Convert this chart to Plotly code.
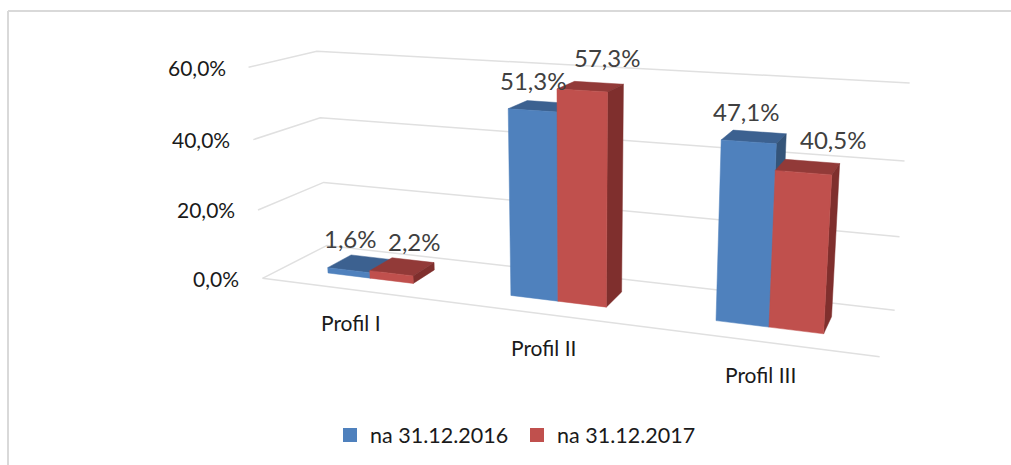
import numpy as np
import plotly.graph_objects as go

# ---------- data ----------
categories = ["Profil I", "Profil II", "Profil III"]
series_names = ["na 31.12.2016", "na 31.12.2017"]
values_2016 = [1.6, 51.3, 47.1]
values_2017 = [2.2, 57.3, 40.5]
labels_2016 = ["1,6%", "51,3%", "47,1%"]
labels_2017 = ["2,2%", "57,3%", "40,5%"]
axis_ticks = [0, 20, 40, 60]
axis_tick_labels = ["0,0%", "20,0%", "40,0%", "60,0%"]

# ---------- style / layout ----------
W, H = 1011, 465
FONT = "Lato"
BLUE = dict(front="#4F81BD", top="#3C6190", side="#345479")
RED = dict(front="#C0504D", top="#923A38", side="#7F2F2D")
GRID = "#E0E0E0"

# Perspective of the 3-D box: (category pos, value, depth) -> pixel, anchored on box corners
BOX_ANCHORS = [
    ((0, 60, 0), (247, 68)), ((0, 40, 0), (253, 140)), ((0, 20, 0), (259, 210)), ((0, 0, 0), (263, 277)),
    ((0, 60, 1), (318, 51)), ((0, 40, 1), (320, 117)), ((0, 20, 1), (325, 182)), ((0, 0, 1), (325, 247)),
    ((3, 60, 1), (910, 83)), ((3, 40, 1), (904, 161)), ((3, 20, 1), (899, 237)), ((3, 0, 1), (895, 310)),
    ((3, 0, 0), (880, 357)),
]


def fit_projection(anchors):
    rows = []
    for (u, v, w), (x, y) in anchors:
        p = [u, v * 0.05, w, 1]
        rows.append(p + [0, 0, 0, 0] + [-x * c for c in p])
        rows.append([0, 0, 0, 0] + p + [-y * c for c in p])
    _, _, vt = np.linalg.svd(np.array(rows, dtype=float))
    return vt[-1].reshape(3, 4)


PROJ = fit_projection(BOX_ANCHORS)


def project(u, v, w):
    q = PROJ @ np.array([u, v * 0.05, w, 1.0])
    return q[0] / q[2], q[1] / q[2]


BAR_WIDTH = 0.24
DEPTH_FRONT, DEPTH_BACK = 0.31, 0.69


def faces(cat, ser, val):
    u0 = cat + 0.5 - BAR_WIDTH + ser * BAR_WIDTH
    u1 = u0 + BAR_WIDTH
    d0, d1 = DEPTH_FRONT, DEPTH_BACK
    return dict(
        top=[(u0, val, d0), (u1, val, d0), (u1, val, d1), (u0, val, d1)],
        side=[(u1, 0, d0), (u1, val, d0), (u1, val, d1), (u1, 0, d1)],
        front=[(u0, 0, d0), (u1, 0, d0), (u1, val, d0), (u0, val, d0)],
    )


fig = go.Figure()

# gridlines: two walls and the floor
for tick in axis_ticks:
    pts = [project(0, tick, 0), project(0, tick, 1), project(3, tick, 1)]
    if tick == 0:
        pts = [project(3, 0, 0)] + pts[:1]
        pts += [project(0, 0, 1), project(3, 0, 1)]
    fig.add_trace(go.Scatter(x=[p[0] for p in pts], y=[p[1] for p in pts], mode="lines",
                             line=dict(color=GRID, width=1.5), hoverinfo="skip", showlegend=False))

# bars
for ser, (name, vals, col) in enumerate(zip(series_names, (values_2016, values_2017), (BLUE, RED))):
    for face in ("top", "side", "front"):
        xs, ys = [], []
        for cat, val in enumerate(vals):
            for corner in faces(cat, ser, val)[face]:
                px, py = project(*corner)
                xs.append(px)
                ys.append(py)
            xs.append(xs[-4])
            ys.append(ys[-4])
            xs.append(None)
            ys.append(None)
        fig.add_trace(go.Scatter(x=xs, y=ys, mode="lines", fill="toself", fillcolor=col[face],
                                 line=dict(color=col[face], width=0.5), name=name,
                                 hoverinfo="name", showlegend=False))

# legend entries
for name, col in zip(series_names, (BLUE, RED)):
    fig.add_trace(go.Scatter(x=[None], y=[None], mode="markers", name=name,
                             marker=dict(symbol="square", size=14, color=col["front"])))

ann = []
# value-axis labels
for tick, text in zip(axis_ticks, axis_tick_labels):
    x, y = project(0, tick, 0)
    ann.append(dict(x=x - 21, y=y, text=text, xanchor="right", yanchor="middle", showarrow=False,
                    font=dict(family=FONT, size=21, color="#1A1A1A")))
# category labels
for i, cat in enumerate(categories):
    x, y = project(i + 0.5, 0, 0)
    ann.append(dict(x=x, y=y + 33, text=cat, xanchor="center", yanchor="middle", showarrow=False,
                    font=dict(family=FONT, size=21, color="#1A1A1A")))
# data labels (offsets from the top centre of each bar)
LABEL_OFFSETS = [[(-10, -25), (12, -25)], [(-9, -26), (16, -29)], [(-8, -25), (25, -27)]]
for ser, (vals, labs) in enumerate(zip((values_2016, values_2017), (labels_2016, labels_2017))):
    for cat, (val, lab) in enumerate(zip(vals, labs)):
        u = cat + 0.5 - BAR_WIDTH + (ser + 0.5) * BAR_WIDTH
        x, y = project(u, val, 0.5)
        dx, dy = LABEL_OFFSETS[cat][ser]
        ann.append(dict(x=x + dx, y=y + dy, text=lab, xanchor="center", yanchor="middle", showarrow=False,
                        font=dict(family=FONT, size=24, color="#404040")))

fig.update_layout(
    width=W, height=H, margin=dict(l=0, r=0, t=0, b=0), paper_bgcolor="white", plot_bgcolor="white",
    xaxis=dict(range=[0, W], visible=False, fixedrange=True),
    yaxis=dict(range=[H, 0], visible=False, fixedrange=True),
    annotations=ann,
    legend=dict(orientation="h", x=330 / W, y=1 - 435 / H, xanchor="left", yanchor="middle",
                font=dict(family=FONT, size=21.5, color="#1A1A1A"), bgcolor="rgba(0,0,0,0)",
                entrywidth=142, entrywidthmode="pixels"),
    shapes=[
        dict(type="line", xref="x", yref="y", x0=8, x1=W, y0=11, y1=11, line=dict(color="#D9D9D9", width=2)),
        dict(type="line", xref="x", yref="y", x0=8, x1=8, y0=11, y1=H, line=dict(color="#D9D9D9", width=2)),
    ],
)
fig.write_html("out.html", config=dict(displayModeBar=False),
               post_script="document.body.style.margin='0';document.documentElement.style.overflow='hidden';")
